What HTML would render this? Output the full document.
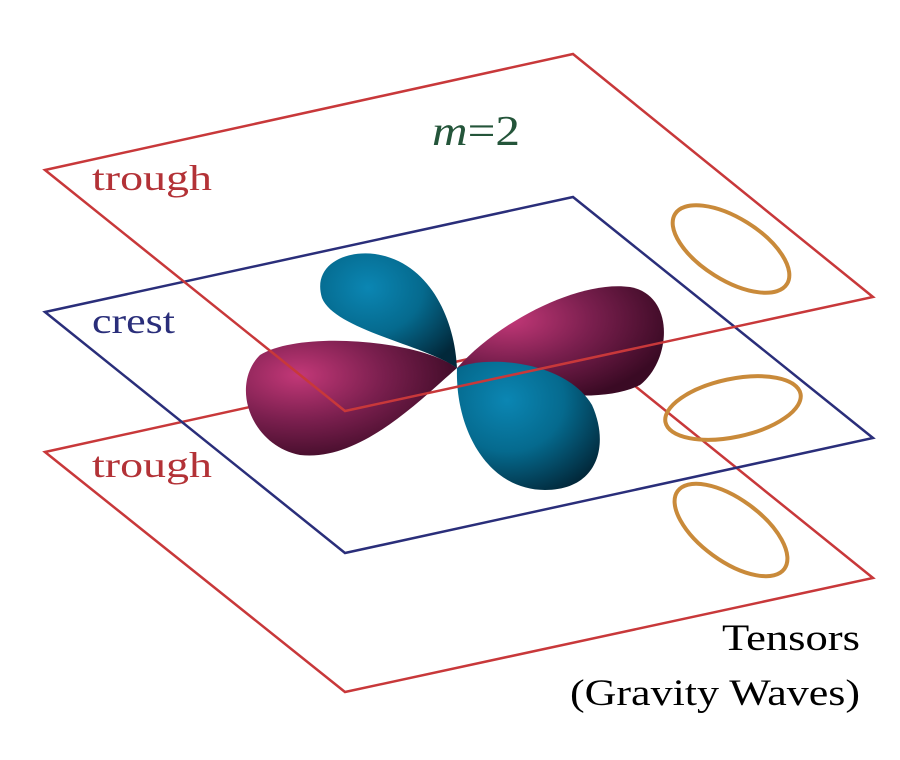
<!DOCTYPE html>
<html><head><meta charset="utf-8"><style>
html,body{margin:0;padding:0;background:#fff;}
svg{display:block;}
text{font-family:"Liberation Serif",serif;}
</style></head><body>
<svg width="900" height="760" viewBox="0 0 900 760">
<defs>
<radialGradient id="mag" cx="0.25" cy="0.3" r="0.8">
<stop offset="0" stop-color="#c33878"/><stop offset="0.5" stop-color="#7a1f4e"/><stop offset="1" stop-color="#3a0a24"/>
</radialGradient>
<radialGradient id="blu" cx="0.35" cy="0.3" r="0.8">
<stop offset="0" stop-color="#0b86b3"/><stop offset="0.5" stop-color="#056a8e"/><stop offset="1" stop-color="#02283a"/>
</radialGradient>
</defs>
<polygon points="45,452 573,336 873,578 345,692" fill="none" stroke="#c8383a" stroke-width="2.5"/>
<polygon points="45,312 573,197 873,438 345,553" fill="none" stroke="#2a2e7a" stroke-width="2.5"/>
<path d="M457,368 C420,340 300,330 260,355 C230,385 250,445 300,455 C360,462 420,400 457,368 Z" fill="url(#mag)"/>
<path d="M457,368 C500,320 580,280 630,287 C675,295 672,360 640,385 C600,405 520,395 457,368 Z" fill="url(#mag)"/>
<path d="M457,368 C425,345 335,330 322,298 C312,265 345,250 375,254 C430,262 455,320 457,368 Z" fill="url(#blu)"/>
<path d="M457,368 C485,355 565,360 592,405 C610,445 598,490 545,490 C488,490 455,430 457,368 Z" fill="url(#blu)"/>
<polygon points="45,170 573,54 873,297 345,411" fill="none" stroke="#c8383a" stroke-width="2.5"/>
<ellipse cx="731" cy="249" rx="66" ry="31" transform="rotate(32 731 249)" fill="none" stroke="#c98a3a" stroke-width="4"/>
<ellipse cx="733" cy="408" rx="69" ry="29" transform="rotate(-12 733 408)" fill="none" stroke="#c98a3a" stroke-width="4"/>
<ellipse cx="731" cy="530" rx="66" ry="31" transform="rotate(36 731 530)" fill="none" stroke="#c98a3a" stroke-width="4"/>
<text x="92" y="190" font-size="36" textLength="120" lengthAdjust="spacingAndGlyphs" fill="#b33237">trough</text>
<text x="92" y="333" font-size="36" textLength="83" lengthAdjust="spacingAndGlyphs" fill="#2a2e7a">crest</text>
<text x="92" y="477" font-size="36" textLength="120" lengthAdjust="spacingAndGlyphs" fill="#b33237">trough</text>
<text x="432" y="145" font-size="42" textLength="88" lengthAdjust="spacingAndGlyphs" fill="#24553a"><tspan font-style="italic">m</tspan>=2</text>
<text x="722" y="650" font-size="37" textLength="138" lengthAdjust="spacingAndGlyphs" fill="#000">Tensors</text>
<text x="570" y="705" font-size="37" textLength="290" lengthAdjust="spacingAndGlyphs" fill="#000">(Gravity Waves)</text>
</svg>
</body></html>
